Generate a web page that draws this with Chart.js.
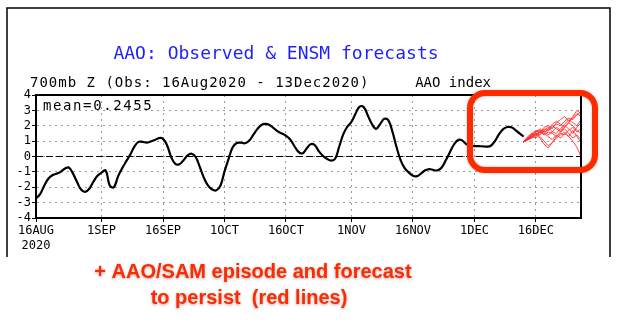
<!DOCTYPE html>
<html>
<head>
<meta charset="utf-8">
<script src="https://cdn.jsdelivr.net/npm/chart.js@4"></script>
<style>
  html, body { margin: 0; padding: 0; background: #fff; }
  canvas { display: block; }
</style>
</head>
<body>
<canvas id="aao" width="618" height="324"></canvas>
<script>
// dados (dias desde 16Aug2020)
const xTickDays = [0, 16, 31, 46, 61, 77, 92, 107, 122];
const xTickLabels = ['16AUG', '1SEP', '16SEP', '1OCT', '16OCT', '1NOV', '16NOV', '1DEC', '16DEC'];
const yTicks = [-4, -3, -2, -1, 0, 1, 2, 3, 4];

// AAO observado, um valor por dia, 16Aug .. 13Dec
const obsValues = [
  -2.72, -2.45, -1.9, -1.45, -1.22, -1.12, -1.0, -0.8, -0.72, -1.1,
  -1.65, -2.15, -2.3, -2.1, -1.64, -1.25, -1.05, -0.9, -1.88, -2.0,
  -1.31, -0.78, -0.32, 0.12, 0.64, 0.95, 0.95, 0.9, 0.98, 1.07,
  1.2, 1.15, 0.72, -0.05, -0.48, -0.5, -0.24, 0.08, 0.18, -0.05,
  -0.7, -1.4, -1.9, -2.15, -2.2, -1.9, -0.98, -0.15, 0.6, 0.88,
  0.9, 0.86, 1.02, 1.4, 1.78, 2.05, 2.12, 2.05, 1.85, 1.63,
  1.5, 1.35, 1.12, 0.7, 0.32, 0.2, 0.5, 0.8, 0.75, 0.35,
  0.05, -0.15, -0.27, -0.15, 0.65, 1.45, 1.95, 2.26, 2.8, 3.25,
  3.2, 2.65, 2.1, 1.8, 2.12, 2.45, 2.35, 1.6, 0.6, -0.25,
  -0.77, -1.05, -1.25, -1.28, -1.1, -0.9, -0.82, -0.88, -0.9, -0.72,
  -0.25, 0.28, 0.78, 1.08, 1.05, 0.8, 0.7, 0.68, 0.68, 0.66,
  0.64, 0.7, 1.0, 1.45, 1.78, 1.92, 1.9, 1.72, 1.5, 1.3
];

// membros do ensemble (previsao), dia 119 .. 133
const fcstStartDay = 119;
const fcst1 = [0.95, 1.1, 1.3, 1.5, 1.6, 1.8, 1.7, 1.9, 2.1, 2.0, 2.3, 2.5, 2.4, 2.7, 2.9];
const fcst2 = [0.95, 1.2, 1.4, 1.3, 1.6, 1.9, 2.0, 1.8, 2.2, 2.4, 2.6, 2.3, 2.5, 2.8, 2.6];
const fcst3 = [0.95, 1.1, 1.2, 1.5, 1.3, 1.0, 0.7, 0.9, 1.2, 1.4, 1.6, 1.3, 1.0, 0.6, 0.0];
const fcst4 = [0.95, 1.2, 1.5, 1.4, 1.2, 0.8, 0.55, 0.9, 1.3, 1.5, 1.4, 1.7, 1.9, 1.6, 1.8];
const fcst5 = [0.95, 1.1, 1.4, 1.6, 1.8, 1.6, 1.7, 2.0, 1.8, 1.6, 1.9, 2.2, 2.0, 1.7, 1.5];
const fcst6 = [0.95, 1.3, 1.5, 1.7, 1.6, 1.4, 1.6, 1.5, 1.3, 1.6, 1.8, 1.5, 1.2, 1.4, 1.1];
const fcst7 = [0.95, 1.2, 1.4, 1.6, 1.7, 1.5, 1.8, 2.1, 2.3, 2.1, 1.9, 2.2, 2.6, 3.0, 2.8];
const fcst8 = [0.95, 1.1, 1.3, 1.2, 1.5, 1.7, 1.4, 1.6, 1.9, 1.7, 2.0, 1.8, 1.5, 1.9, 2.2];
const fcst9 = [0.95, 1.2, 1.3, 1.5, 1.4, 1.7, 1.9, 1.6, 1.5, 1.8, 2.1, 2.4, 2.2, 2.0, 2.4];
const fcst10 = [0.95, 1.1, 1.2, 1.4, 1.6, 1.5, 1.3, 1.1, 1.4, 1.2, 1.5, 1.3, 1.7, 1.3, 0.9];
const fcstMembers = [fcst1, fcst2, fcst3, fcst4, fcst5, fcst6, fcst7, fcst8, fcst9, fcst10];

const mono = '"DejaVu Sans Mono", monospace';

const datasets = [{
  label: 'Observed',
  data: obsValues.map((v, i) => ({ x: i, y: v })),
  borderColor: '#000',
  borderWidth: 2.2,
  tension: 0.4,
  pointRadius: 0,
  order: 1
}];
fcstMembers.forEach((m, k) => {
  datasets.push({
    label: 'ENSM ' + (k + 1),
    data: m.map((v, i) => ({ x: fcstStartDay + i, y: v })),
    borderColor: 'rgba(255, 40, 40, 0.85)',
    borderWidth: 1,
    tension: 0,
    pointRadius: 0,
    order: 2
  });
});

// linha do zero e moldura do grafico
const framePlugin = {
  id: 'frame',
  beforeDatasetsDraw(chart) {
    const { ctx, chartArea: a, scales: { y } } = chart;
    const y0 = y.getPixelForValue(0);
    ctx.save();
    ctx.strokeStyle = '#000';
    ctx.lineWidth = 1.2;
    ctx.setLineDash([7, 3]);
    ctx.beginPath();
    ctx.moveTo(a.left, y0);
    ctx.lineTo(a.right, y0);
    ctx.stroke();
    ctx.restore();
  },
  afterDatasetsDraw(chart) {
    const { ctx, chartArea: a } = chart;
    ctx.save();
    ctx.strokeStyle = '#000';
    ctx.lineWidth = 2;
    ctx.strokeRect(a.left, a.top, a.right - a.left, a.bottom - a.top);
    ctx.restore();
  },
  afterDraw(chart) {
    const ctx = chart.ctx;
    ctx.save();
    // moldura externa (aberta embaixo)
    ctx.strokeStyle = '#000';
    ctx.lineWidth = 1.5;
    ctx.beginPath();
    ctx.moveTo(7, 257);
    ctx.lineTo(7, 8);
    ctx.lineTo(610, 8);
    ctx.lineTo(610, 257);
    ctx.stroke();

    // titulos
    ctx.fillStyle = '#1e1eff';
    ctx.font = '18px ' + mono;
    ctx.textAlign = 'center';
    ctx.textBaseline = 'alphabetic';
    ctx.fillText('AAO: Observed & ENSM forecasts', 276, 59);

    ctx.fillStyle = '#000';
    ctx.font = '14px ' + mono;
    ctx.textAlign = 'left';
    ctx.letterSpacing = '1px';
    ctx.fillText('700mb Z (Obs: 16Aug2020 - 13Dec2020)', 30, 87);
    ctx.letterSpacing = '0px';
    ctx.textAlign = 'right';
    ctx.fillText('AAO index', 491, 87);

    ctx.textAlign = 'left';
    ctx.letterSpacing = '1.6px';
    ctx.fillText('mean=0.2455', 43, 110);
    ctx.letterSpacing = '0px';

    // destaque vermelho
    ctx.shadowColor = 'rgba(0,0,0,0.25)';
    ctx.shadowBlur = 3;
    ctx.strokeStyle = '#ff2a00';
    ctx.lineWidth = 6;
    ctx.beginPath();
    ctx.roundRect(470, 93, 125, 77, 15);
    ctx.stroke();

    // nota embaixo
    ctx.shadowColor = 'rgba(0,0,0,0.35)';
    ctx.shadowBlur = 3;
    ctx.shadowOffsetY = 1;
    ctx.fillStyle = '#ff2a00';
    ctx.font = 'bold 20px "Liberation Sans", Arial, sans-serif';
    ctx.textAlign = 'center';
    ctx.fillText('+ AAO/SAM episode and forecast', 253, 278);
    ctx.fillText('to persist  (red lines)', 249, 304);
    ctx.restore();
  }
};

const config = {
  type: 'line',
  data: { datasets: datasets },
  options: {
    responsive: false,
    animation: false,
    devicePixelRatio: 1,
    layout: { padding: { left: 0, top: 95, right: 37, bottom: 0 } },
    plugins: { legend: { display: false }, tooltip: { enabled: false }, title: { display: false } },
    scales: {
      x: {
        type: 'linear',
        min: 0,
        max: 133,
        afterBuildTicks: s => { s.ticks = xTickDays.map(v => ({ value: v })); },
        afterFit: s => { s.height = 106; },
        ticks: {
          autoSkip: false,
          maxRotation: 0,
          padding: 2,
          color: '#000',
          font: { family: mono, size: 12 },
          callback: (v) => {
            const i = xTickDays.indexOf(v);
            if (i === 0) return [xTickLabels[0], '2020'];
            return i >= 0 ? xTickLabels[i] : '';
          }
        },
        grid: { color: '#9a9a9a', lineWidth: 1, tickLength: 4, tickColor: '#000' },
        border: { display: true, color: '#000', width: 2, dash: [2, 4] }
      },
      y: {
        min: -4,
        max: 4,
        afterBuildTicks: s => { s.ticks = yTicks.map(v => ({ value: v })); },
        afterFit: s => { s.width = 36; },
        ticks: {
          autoSkip: false,
          padding: 1,
          color: '#000',
          font: { family: mono, size: 12 },
          callback: v => String(v)
        },
        grid: { color: '#9a9a9a', lineWidth: 1, tickLength: 4, tickColor: '#000' },
        border: { display: true, color: '#000', width: 2, dash: [2, 4] }
      }
    }
  },
  plugins: [framePlugin]
};

const ctx = document.getElementById('aao').getContext('2d');
new Chart(ctx, config);
</script>
</body>
</html>
